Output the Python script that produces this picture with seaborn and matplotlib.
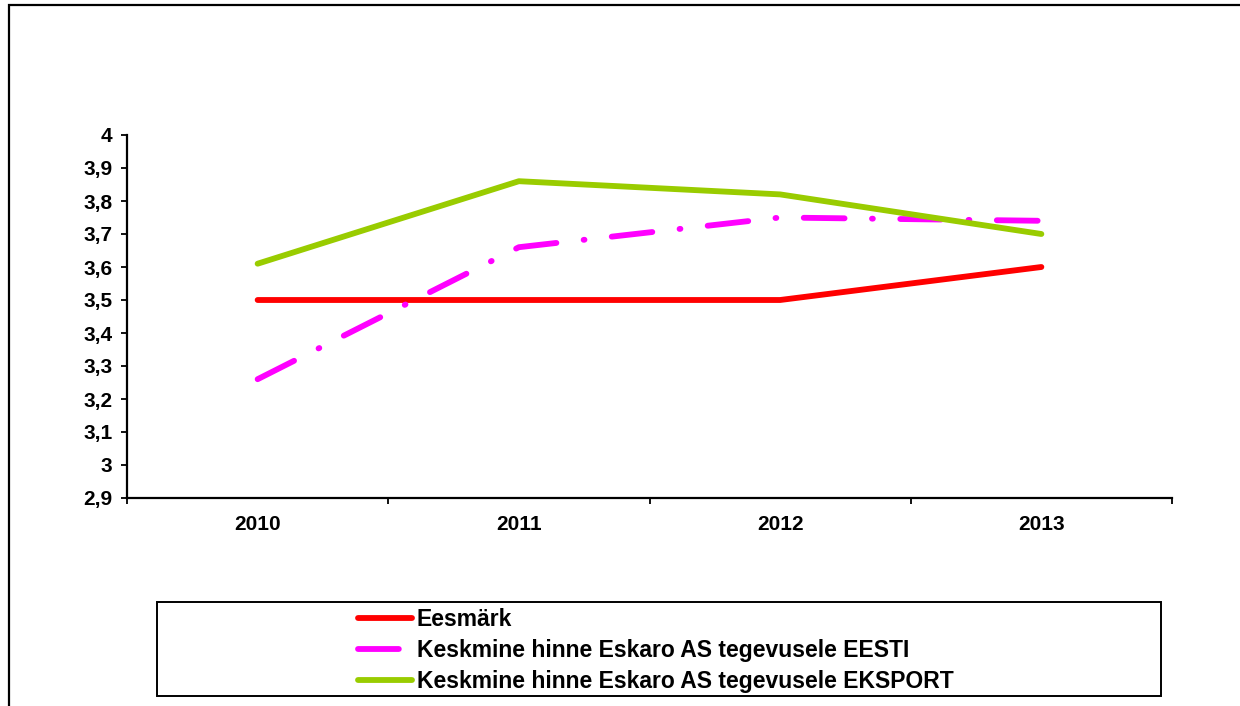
import matplotlib
matplotlib.use("Agg")
import matplotlib.pyplot as plt
import seaborn as sns
import pandas as pd
from matplotlib.patches import Rectangle
from matplotlib.ticker import FixedLocator, FuncFormatter

years = ["2010", "2011", "2012", "2013"]
eesmark = [3.5, 3.5, 3.5, 3.6]
eesti = [3.26, 3.66, 3.75, 3.74]
eksport = [3.61, 3.86, 3.82, 3.70]
series_names = ["Eesmärk",
                "Keskmine hinne Eskaro AS tegevusele EESTI",
                "Keskmine hinne Eskaro AS tegevusele EKSPORT"]
y_ticks = [2.9, 3.0, 3.1, 3.2, 3.3, 3.4, 3.5, 3.6, 3.7, 3.8, 3.9, 4.0]

sns.set_theme(style="white")
plt.rcParams['font.family'] = ['Liberation Sans', 'DejaVu Sans']
plt.rcParams['font.weight'] = 'bold'
plt.rcParams['text.color'] = 'black'

fig = plt.figure(figsize=(12.4, 7.06), dpi=100)
W, H = 1240, 706
ax = fig.add_axes([127 / W, 1 - 498 / H, (1172 - 127) / W, (498 - 135) / H])

colors = ["#FF0000", "#FF00FF", "#99CC00"]
values = [eesmark, eesti, eksport]
lw = 4.2
for name, vals, c in zip(series_names, values, colors):
    df = pd.DataFrame({"x": range(len(years)), "y": vals})
    sns.lineplot(data=df, x="x", y="y", ax=ax, color=c, linewidth=lw,
                 label=name, legend=False)

for ln in ax.lines:
    ln.set_solid_capstyle("round")
    ln.set_dash_capstyle("round")
    ln.set_solid_joinstyle("round")
    ln.set_dash_joinstyle("round")

# dash-dot style for EESTI
ax.lines[1].set_dashes((7.0, 4.7, 0.15, 4.7))

ax.set_xlim(-0.5, 3.5)
ax.set_ylim(2.9, 4.0)
ax.set_xlabel("")
ax.set_ylabel("")

ax.yaxis.set_major_locator(FixedLocator(y_ticks))
ax.yaxis.set_major_formatter(FuncFormatter(
    lambda v, p: ("%g" % round(v, 1)).replace(".", ",")))

ax.xaxis.set_major_locator(FixedLocator([-0.5, 0.5, 1.5, 2.5, 3.5]))
ax.xaxis.set_major_formatter(FuncFormatter(lambda v, p: ""))
ax.xaxis.set_minor_locator(FixedLocator(list(range(len(years)))))
ax.xaxis.set_minor_formatter(FuncFormatter(
    lambda v, p: years[int(round(v))] if 0 <= round(v) < len(years) else ""))

ax.tick_params(axis="y", which="major", direction="out", length=4.5, width=1.3,
               color="black", labelsize=15, pad=6, left=True,
               labelcolor="black")
ax.tick_params(axis="x", which="major", direction="out", length=4.5, width=1.3,
               color="black", bottom=True)
ax.tick_params(axis="x", which="minor", length=0, labelsize=15, pad=12,
               bottom=True, labelcolor="black")
for lab in ax.get_yticklabels() + ax.get_xticklabels(minor=True):
    lab.set_fontweight("bold")

for s in ["top", "right"]:
    ax.spines[s].set_visible(False)
for s in ["left", "bottom"]:
    ax.spines[s].set_color("black")
    ax.spines[s].set_linewidth(1.6)
ax.set_facecolor("white")

# outer frame (cut off at right and bottom)
fig.patches.append(Rectangle((9 / W, -0.05), 1.1, 1 - 5 / H + 0.05,
                             transform=fig.transFigure, fill=False,
                             edgecolor="black", linewidth=1.6))

# legend box
fig.patches.append(Rectangle((157 / W, 1 - 696 / H), (1161 - 157) / W,
                             (696 - 602) / H, transform=fig.transFigure,
                             fill=False, edgecolor="black", linewidth=1.4))

handles = ax.lines[:3]
leg = fig.legend(handles, series_names, loc="upper left",
                 bbox_to_anchor=(358 / W, 1 - 608 / H),
                 frameon=False, fontsize=16.5, handlelength=2.35,
                 handletextpad=0.22, labelspacing=0.34, borderpad=0,
                 borderaxespad=0)
for t in leg.get_texts():
    t.set_fontweight("bold")
    t.set_color("black")

fig.savefig("out.png", dpi=100, facecolor="white")
